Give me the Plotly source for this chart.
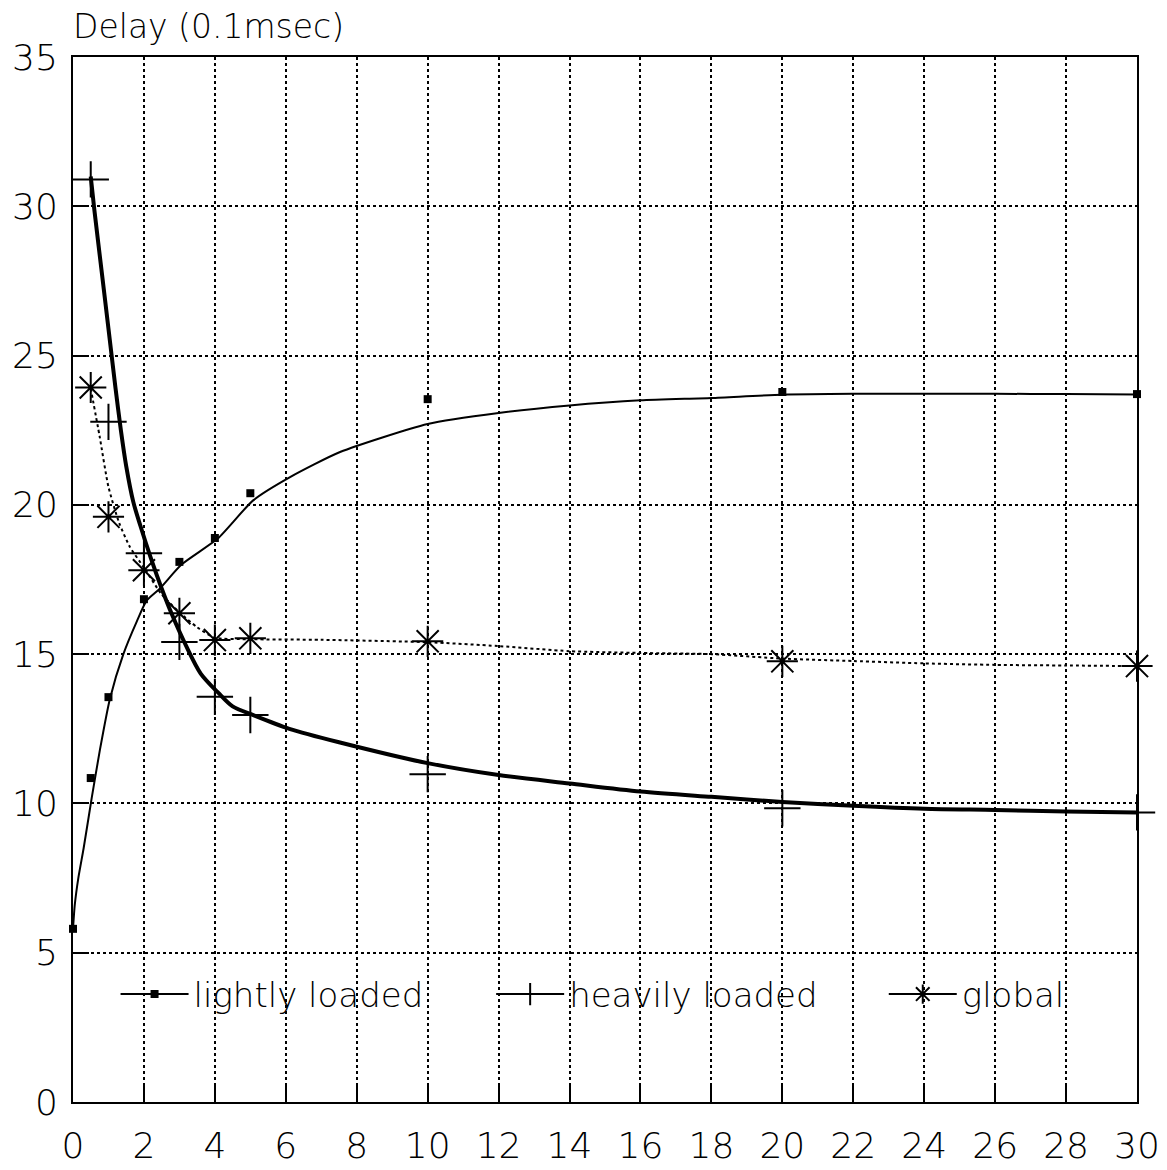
import plotly.graph_objects as go

# Measured delays (0.1 msec) against load
load = [0, 0.5, 1, 2, 3, 4, 5, 10, 20, 30]
lightly_loaded = [5.8, 10.85, 13.56, 16.84, 18.09, 18.89, 20.39, 23.54, 23.78, 23.71]

load_heavy = [0.5, 1, 2, 3, 4, 5, 10, 20, 30]
heavily_loaded = [30.9, 22.78, 18.38, 15.41, 13.57, 12.96, 10.98, 9.84, 9.7]

load_global = [0.5, 1, 2, 3, 4, 5, 10, 20, 30]
global_delay = [23.93, 19.6, 17.81, 16.37, 15.47, 15.53, 15.43, 14.76, 14.6]

# Fitted trend curves
light_fit_x = [0, 0.05, 0.15, 0.3, 0.53, 0.76, 1.04, 1.42, 1.8, 2.08, 2.45, 3.06,
               4.08, 5.08, 6.12, 7.53, 10, 12, 14, 16, 18, 20, 22, 24, 26, 28, 30]
light_fit_y = [5.8, 6.6, 7.5, 8.5, 10.2, 11.8, 13.5, 15.0, 16.1, 16.8, 17.2, 18.0,
               18.87, 20.15, 20.93, 21.77, 22.71, 23.08, 23.33, 23.5, 23.58, 23.69,
               23.72, 23.72, 23.72, 23.71, 23.7]

heavy_fit_x = [0.5, 0.6, 0.8, 1.0, 1.2, 1.35, 1.5, 1.7, 1.9, 2.2, 2.5, 2.8, 3.2, 3.6,
               4.1, 4.5, 5.1, 6.1, 7.5, 10, 12, 14, 16, 18, 20, 22, 24, 26, 28, 30]
heavy_fit_y = [31.0, 29.9, 27.9, 25.9, 23.9, 22.5, 21.3, 20.1, 19.3, 18.2, 17.2, 16.3,
               15.25, 14.35, 13.7, 13.25, 12.95, 12.5, 12.05, 11.35, 10.95, 10.67,
               10.4, 10.22, 10.05, 9.92, 9.82, 9.78, 9.73, 9.7]

global_fit_x = [0.5, 0.75, 1.0, 1.3, 1.6, 2.0, 2.5, 3.0, 3.5, 4.0, 5, 7, 10, 12, 14,
                16, 18, 20, 22, 24, 26, 28, 30]
global_fit_y = [23.9, 22.3, 20.6, 19.4, 18.6, 17.9, 17.0, 16.4, 15.9, 15.55, 15.5,
                15.48, 15.4, 15.27, 15.1, 15.04, 15.0, 14.85, 14.77, 14.69, 14.64,
                14.62, 14.6]

x_ticks = list(range(0, 31, 2))
y_ticks = list(range(0, 36, 5))

FONT = "DejaVu Sans"
INK = "black"

fig = go.Figure()

# trend curves
fig.add_trace(go.Scatter(x=light_fit_x, y=light_fit_y, mode="lines",
                         line=dict(color=INK, width=2, shape="spline", smoothing=0.6),
                         showlegend=False, hoverinfo="skip"))
fig.add_trace(go.Scatter(x=heavy_fit_x, y=heavy_fit_y, mode="lines",
                         line=dict(color=INK, width=4, shape="spline", smoothing=0.8),
                         showlegend=False, hoverinfo="skip"))
fig.add_trace(go.Scatter(x=global_fit_x, y=global_fit_y, mode="lines",
                         line=dict(color=INK, width=2, dash="dot", shape="spline",
                                   smoothing=0.6),
                         showlegend=False, hoverinfo="skip"))

# measured points
fig.add_trace(go.Scatter(x=load, y=lightly_loaded, mode="markers", cliponaxis=False,
                         marker=dict(symbol="square", size=8, color=INK),
                         showlegend=False))
fig.add_trace(go.Scatter(x=load_heavy, y=heavily_loaded, mode="markers",
                         cliponaxis=False,
                         marker=dict(symbol="cross-thin-open", size=26, color=INK,
                                     line=dict(color=INK, width=2)),
                         showlegend=False))
fig.add_trace(go.Scatter(x=load_global, y=global_delay, mode="markers",
                         cliponaxis=False,
                         marker=dict(symbol="asterisk-open", size=26, color=INK,
                                     line=dict(color=INK, width=2)),
                         showlegend=False))

# legend entries, one legend box each so they sit in a single spaced row
fig.add_trace(go.Scatter(x=[None], y=[None], mode="lines+markers", name="lightly loaded",
                         legend="legend",
                         line=dict(color=INK, width=2),
                         marker=dict(symbol="square", size=8, color=INK)))
fig.add_trace(go.Scatter(x=[None], y=[None], mode="lines+markers", name="heavily loaded",
                         legend="legend2",
                         line=dict(color=INK, width=2),
                         marker=dict(symbol="cross-thin-open", size=16, color=INK,
                                     line=dict(color=INK, width=2))))
fig.add_trace(go.Scatter(x=[None], y=[None], mode="lines+markers", name="global",
                         legend="legend3",
                         line=dict(color=INK, width=2),
                         marker=dict(symbol="asterisk-open", size=16, color=INK,
                                     line=dict(color=INK, width=2))))

axis_common = dict(
    showline=True, linecolor=INK, linewidth=2, mirror=True,
    showgrid=True, gridcolor=INK, gridwidth=1.5, griddash="dot",
    ticks="inside", ticklen=16, tickwidth=2, tickcolor=INK,
    zeroline=False, automargin=False,
    tickfont=dict(family=FONT, size=36, color=INK, weight=200),
)

fig.update_xaxes(range=[0, 30], tickvals=x_ticks, ticktext=[str(v) for v in x_ticks],
                 ticklabelstandoff=11, **axis_common)
fig.update_yaxes(range=[0, 35], tickvals=y_ticks, ticktext=[str(v) for v in y_ticks],
                 ticklabelstandoff=6, **axis_common)

fig.add_annotation(text="Delay (0.1msec)", xref="paper", yref="paper", x=-0.002, y=1,
                   xanchor="left", yanchor="bottom", yshift=9, showarrow=False,
                   font=dict(family=FONT, size=33, color=INK, weight=200))

legend_style = dict(orientation="h", y=3.6 / 35, xanchor="left", yanchor="middle",
                    bgcolor="rgba(0,0,0,0)", borderwidth=0, itemwidth=68,
                    font=dict(family=FONT, size=34, color=INK, weight=200))

fig.update_layout(
    width=1167, height=1170,
    margin=dict(l=73, r=30, t=57, b=68),
    paper_bgcolor="white", plot_bgcolor="white",
    showlegend=True,
    legend=dict(x=0.04, **legend_style),
    legend2=dict(x=0.393, **legend_style),
    legend3=dict(x=0.762, **legend_style),
)

fig.write_html("out.html")
